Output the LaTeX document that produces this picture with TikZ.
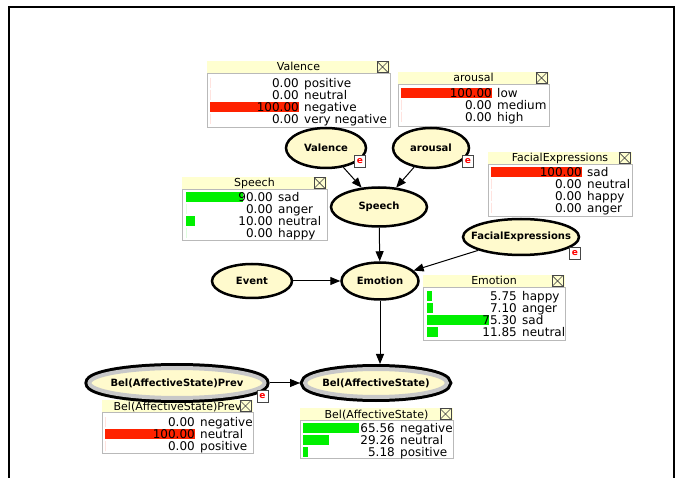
\documentclass[tikz,border=0pt]{standalone}
\usepackage{fontspec}
\setmainfont{DejaVu Sans}
\usetikzlibrary{shapes.geometric,arrows.meta}
\definecolor{nodeyel}{RGB}{255,250,205}
\definecolor{hdryel}{RGB}{255,255,208}
\definecolor{ringgray}{RGB}{200,200,200}
\definecolor{barred}{RGB}{255,34,0}
\definecolor{bargreen}{RGB}{0,240,0}
\definecolor{tblgray}{RGB}{185,185,185}
\definecolor{iconline}{RGB}{70,70,70}
\newcommand{\ctr}[1]{\makebox[0pt][c]{#1}}
\tikzset{
  bn/.style={ellipse, draw=black, line width=2.5pt, fill=nodeyel, inner sep=0pt,
    font=\fontsize{10}{12}\selectfont\bfseries},
  belbn/.style={ellipse, fill=nodeyel, draw=ringgray, line width=4pt,
    preaction={draw=black, line width=10pt}, inner sep=0pt, outer sep=5pt,
    font=\fontsize{10}{12}\selectfont\bfseries},
  arr/.style={line width=1pt, -{Triangle[length=10pt,width=8pt]}},
  ebox/.style={rectangle, draw=iconline, line width=0.6pt, fill=white,
    minimum width=11pt, minimum height=12pt, inner sep=0pt, text=red,
    font=\fontsize{9}{9}\selectfont\bfseries},
  tbody/.style={fill=white, draw=tblgray, line width=0.8pt},
  num/.style={anchor=base east, inner sep=0pt, font=\fontsize{12}{12}\selectfont},
  lab/.style={anchor=base west, inner sep=0pt, font=\fontsize{12}{12}\selectfont},
  ttl/.style={anchor=base, inner sep=0pt, font=\fontsize{11}{11}\selectfont},
  closeicon/.style={fill=hdryel, draw=iconline, line width=0.7pt},
  frameline/.style={line width=2pt}
}
% #1 name, #2 L, #3 R, #4 T, #5 B, #6 title
\newcommand{\tblframe}[6]{%
  \fill[hdryel] (#2,#4) rectangle (#3,#4+12);
  \draw[tbody] (#2,#4+12) rectangle (#3,#5);
  \node[ttl] (#1-title) at ({(#2+#3)/2},#4+10) {#6};
  \draw[closeicon] (#3-13,#4+0.5) rectangle (#3-2,#4+11.5);
  \draw[iconline, line width=0.7pt] (#3-13,#4+0.5) -- (#3-2,#4+11.5) (#3-13,#4+11.5) -- (#3-2,#4+0.5);
}
% #1 name, #2 y, #3 bar start, #4 bar width, #5 colour, #6 number x, #7 value, #8 label
\newcommand{\trow}[8]{%
  \fill[#5] (#3,#2-5) rectangle ++(#4,10);
  \node[num] (#1-n) at (#6,#2+4.3) {#7};
  \node[lab] (#1-l) at (#6+5,#2+4.3) {#8};
}
\begin{document}
\begin{tikzpicture}[x=1pt,y=-1pt]
\useasboundingbox (0,0) rectangle (675,478);
\fill[white] (0,0) rectangle (675,478);
% frame
\draw[frameline] (9,478) -- (9,7) -- (673.5,7) -- (673.5,478);

% tables
\tblframe{vt}{207}{390}{61}{127}{Valence}
\trow{vt1}{83}{210}{0}{barred}{299}{0.00}{positive}
\trow{vt2}{95}{210}{0}{barred}{299}{0.00}{neutral}
\trow{vt3}{107}{210}{89}{barred}{299}{100.00}{negative}
\trow{vt4}{119}{210}{0}{barred}{299}{0.00}{very negative}

\tblframe{at}{398}{549}{72}{126}{arousal}
\trow{at1}{93}{401}{91}{barred}{492}{100.00}{low}
\trow{at2}{105}{401}{0}{barred}{492}{0.00}{medium}
\trow{at3}{117}{401}{0}{barred}{492}{0.00}{high}

\tblframe{ft}{488}{632}{152}{216}{FacialExpressions}
\trow{ft1}{172}{491}{91}{barred}{582}{100.00}{sad}
\trow{ft2}{184}{491}{0}{barred}{582}{0.00}{neutral}
\trow{ft3}{196}{491}{0}{barred}{582}{0.00}{happy}
\trow{ft4}{208}{491}{0}{barred}{582}{0.00}{anger}

\tblframe{st}{182}{327}{177}{240}{Speech}
\trow{st1}{197}{186}{57}{bargreen}{273}{90.00}{sad}
\trow{st2}{209}{186}{0}{bargreen}{273}{0.00}{anger}
\trow{st3}{221}{186}{8.6}{bargreen}{273}{10.00}{neutral}
\trow{st4}{233}{186}{0}{bargreen}{273}{0.00}{happy}

\tblframe{et}{423}{565}{275}{340}{Emotion}
\trow{et1}{296}{427}{5.2}{bargreen}{517}{5.75}{happy}
\trow{et2}{308}{427}{6.4}{bargreen}{517}{7.10}{anger}
\trow{et3}{320}{427}{62}{bargreen}{517}{75.30}{sad}
\trow{et4}{332}{427}{10.7}{bargreen}{517}{11.85}{neutral}

\tblframe{bt}{300}{453}{408}{458}{Bel(AffectiveState)}
\trow{bt1}{428}{303}{56}{bargreen}{395}{65.56}{negative}
\trow{bt2}{440}{303}{26}{bargreen}{395}{29.26}{neutral}
\trow{bt3}{452}{303}{4.8}{bargreen}{395}{5.18}{positive}

\tblframe{pt}{102}{253}{400}{453}{Bel(AffectiveState)Prev}
\trow{pt1}{422}{105}{0}{barred}{195}{0.00}{negative}
\trow{pt2}{434}{105}{90}{barred}{195}{100.00}{neutral}
\trow{pt3}{446}{105}{0}{barred}{195}{0.00}{positive}

% nodes
\node[bn, minimum width=80pt, minimum height=40pt] (valence) at (326,148) {\ctr{Valence}};
\node[bn, minimum width=76pt, minimum height=40pt] (arousal) at (431,148) {\ctr{arousal}};
\node[bn, minimum width=96pt, minimum height=39pt] (speech) at (379,207) {\ctr{Speech}};
\node[bn, minimum width=80pt, minimum height=34pt] (event) at (252,281) {\ctr{Event}};
\node[bn, minimum width=77pt, minimum height=37pt] (emotion) at (380,281) {\ctr{Emotion}};
\node[bn, minimum width=116pt, minimum height=36pt] (facial) at (521,237) {\ctr{FacialExpressions}};
\node[belbn, minimum width=142pt, minimum height=28pt] (bel) at (376,383) {\ctr{Bel(AffectiveState)}};
\node[belbn, minimum width=175pt, minimum height=30pt] (prev) at (177,383) {\ctr{Bel(AffectiveState)Prev}};

% evidence marks
\node[ebox] (valence-e) at (360,161.5) {e};
\node[ebox] (arousal-e) at (468,161.5) {e};
\node[ebox] (facial-e) at (575,253) {e};
\node[ebox] (prev-e) at (262.5,396) {e};

% connectors
\draw[arr] (valence) -- (speech);
\draw[arr] (arousal) -- (speech);
\draw[arr] (speech) -- (emotion);
\draw[arr] (event) -- (emotion);
\draw[arr] (facial) -- (emotion);
\draw[arr] (emotion.south) -- (emotion.south |- bel.north);
\draw[arr] (prev) -- (bel);
\end{tikzpicture}
\end{document}
